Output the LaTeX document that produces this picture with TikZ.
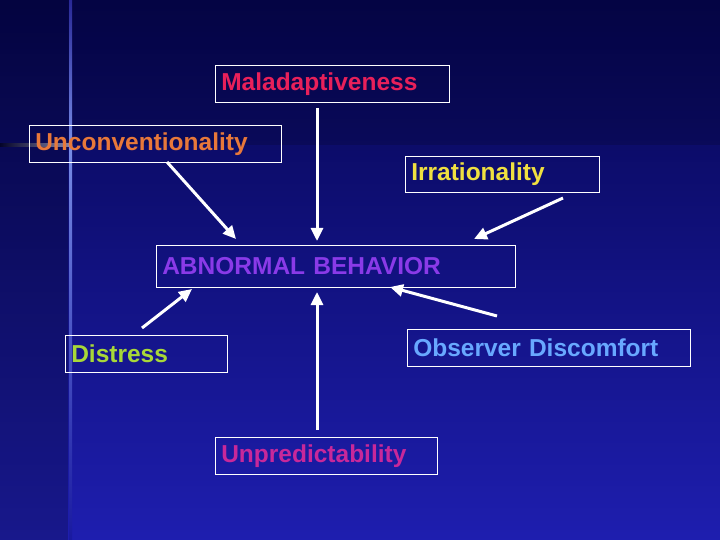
\documentclass[tikz,border=0pt]{standalone}
\usepackage{fontspec}
\setmainfont{Liberation Sans}
\usetikzlibrary{arrows.meta}
\definecolor{malcol}{HTML}{E8205A}
\definecolor{unccol}{HTML}{E8783A}
\definecolor{irrcol}{HTML}{F0E040}
\definecolor{abncol}{HTML}{8A3AE8}
\definecolor{discol}{HTML}{A8D838}
\definecolor{obscol}{HTML}{68A8FF}
\definecolor{unpcol}{HTML}{C8289A}
\begin{document}
\begin{tikzpicture}[x=1pt,y=-1pt]
    \tikzstyle{every node}=[draw=white, line width=0.6pt, inner xsep=6pt, inner ysep=4pt, font=\bfseries\fontsize{24.5}{28}\selectfont, align=left, anchor=north west]
    \tikzstyle{edge}=[white, line width=3pt, -{Triangle[length=13pt,width=12pt]}]

    % background
    \shade[top color={rgb,255:red,5;green,5;blue,80}, bottom color={rgb,255:red,30;green,30;blue,175}] (0,0) rectangle (720,540);
    \fill[black, opacity=0.2] (0,0) rectangle (68,540);
    \fill[black, opacity=0.15] (68,0) rectangle (720,145);
    \shade[left color=blue!0!black, right color=white, opacity=0.5] (0,144) rectangle (70,147);
    \shade[top color={rgb,255:red,40;green,40;blue,150}, bottom color={rgb,255:red,120;green,140;blue,230}] (69,0) rectangle (72,145);
    \shade[top color={rgb,255:red,120;green,140;blue,230}, bottom color={rgb,255:red,25;green,25;blue,160}] (69,145) rectangle (72,540);

    \node[text width=222pt, minimum height=37pt, text=malcol] (mal) at (215,65) {Maladaptiveness};
    \node[text width=240pt, minimum height=37pt, text=unccol] (unc) at (29,125) {Unconventionality};
    \node[text width=182pt, minimum height=36pt, text=irrcol] (irr) at (405,156) {Irrationality};
    \node[text width=347pt, minimum height=42pt, text=abncol] (abn) at (156,245) {ABNORMAL BEHAVIOR};
    \node[text width=150pt, minimum height=37pt, text=discol] (dis) at (65,335) {Distress};
    \node[text width=271pt, minimum height=37pt, text=obscol] (obs) at (407,329) {Observer Discomfort};
    \node[text width=210pt, minimum height=37pt, text=unpcol] (unp) at (215,437) {Unpredictability};

    \coordinate (p1) at (317,108);
    \coordinate (q1) at (317,241);
    \coordinate (p2) at (167,162);
    \coordinate (q2) at (236,239);
    \coordinate (p3) at (563,198);
    \coordinate (q3) at (474,239);
    \coordinate (p4) at (142,328);
    \coordinate (q4) at (192,289);
    \coordinate (p5) at (497,316);
    \coordinate (q5) at (390,287);
    \coordinate (p6) at (317,430);
    \coordinate (q6) at (317,292);

    \draw[edge] (p1) -- (q1);
    \draw[edge] (p2) -- (q2);
    \draw[edge] (p3) -- (q3);
    \draw[edge] (p4) -- (q4);
    \draw[edge] (p5) -- (q5);
    \draw[edge] (p6) -- (q6);
\end{tikzpicture}
\end{document}
